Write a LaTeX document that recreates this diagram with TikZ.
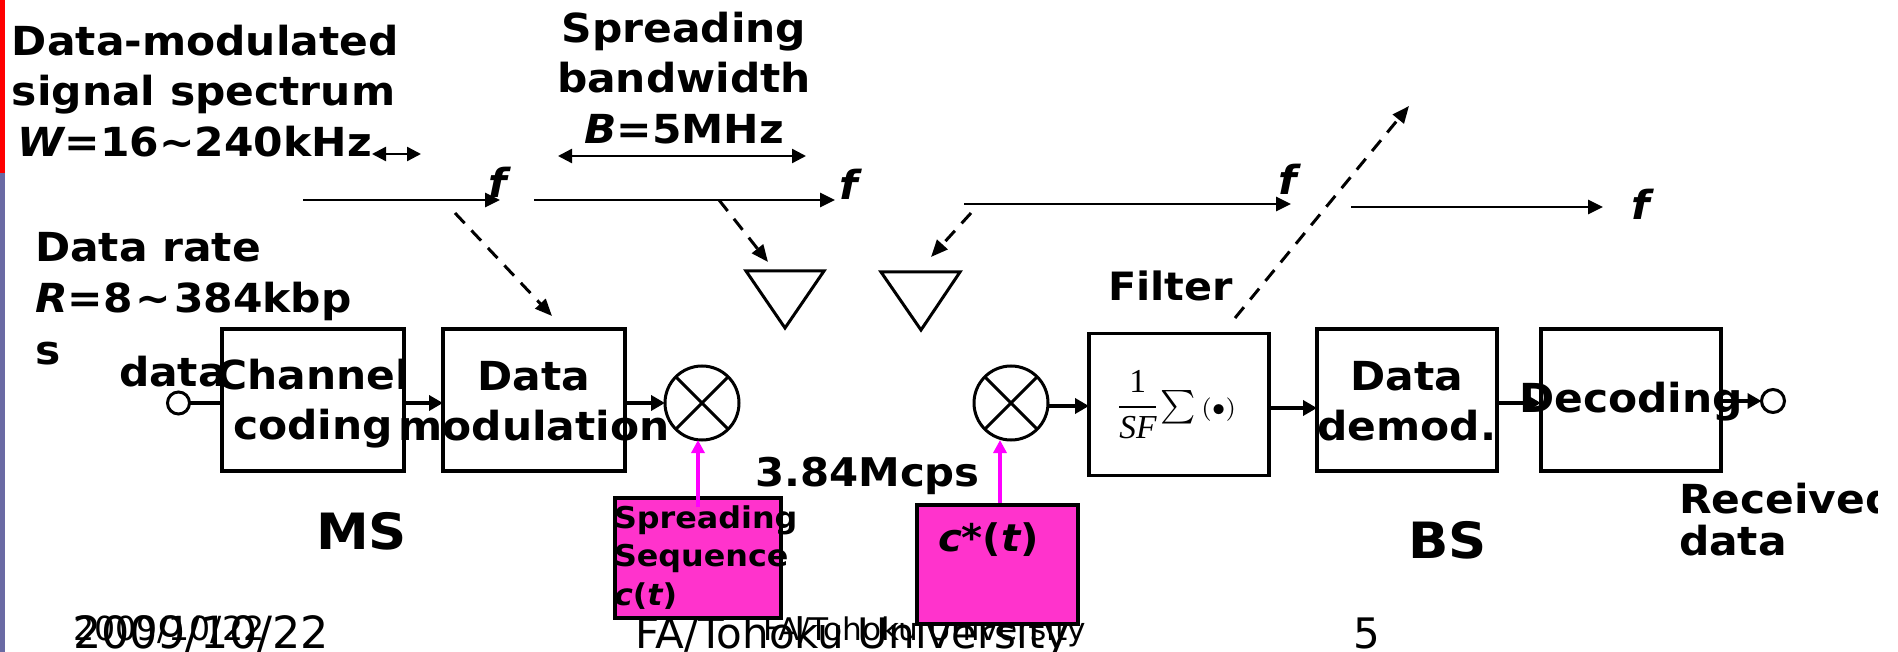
\documentclass[tikz,border=0pt]{standalone}
\usepackage{fontspec}
\setmainfont[BoldFeatures={FakeStretch=1.06},BoldItalicFeatures={FakeStretch=1.06}]{DejaVu Sans}
\newfontfamily\timesface{Liberation Serif}
\usetikzlibrary{arrows.meta}
\definecolor{stripred}{HTML}{FF0000}
\definecolor{stripblue}{HTML}{6A6AA4}
\definecolor{pinkfill}{HTML}{FF33CC}
\definecolor{magline}{HTML}{FF00FF}
\tikzset{
  x=1pt,y=-1pt,
  lbl/.style={inner sep=0pt,outer sep=0pt,anchor=base west,font=\fontsize{40}{50}\selectfont\bfseries},
  multi/.style={inner sep=0pt,outer sep=0pt,align=left,anchor=north west,font=\fontsize{40}{50.5}\selectfont\bfseries},
  foot/.style={inner sep=0pt,outer sep=0pt,anchor=base west,font=\fontsize{44.4}{50}\selectfont},
  footsmall/.style={inner sep=0pt,outer sep=0pt,anchor=base west,font=\fontsize{33.2}{36}\selectfont},
  blockbox/.style={draw,line width=3.2pt,inner sep=0pt,outer sep=0pt,align=center,minimum width=182pt,minimum height=142pt,font=\fontsize{40}{50}\selectfont\bfseries},
  pinkbox/.style={draw,line width=3.6pt,fill=pinkfill,inner sep=0pt,outer sep=0pt},
  mult/.style={draw,circle,line width=3pt,minimum size=74pt,inner sep=0pt,outer sep=0pt},
  port/.style={draw,circle,line width=3pt,minimum size=22pt,inner sep=0pt,outer sep=0pt},
  arr/.style={line width=2.6pt,-{Triangle[length=15pt,width=14pt]}},
  thickarr/.style={line width=3.6pt,-{Triangle[length=14pt,width=15pt]}},
  dbl/.style={line width=2.4pt,{Triangle[length=14pt,width=14pt]}-{Triangle[length=14pt,width=14pt]}},
  dasharr/.style={line width=3pt,dash pattern=on 14pt off 10pt,-{Triangle[length=17pt,width=14pt]}},
  magarr/.style={line width=3.2pt,magline,-{Triangle[length=13pt,width=13pt]}},
  ant/.style={draw,line width=3pt,line join=miter},
}
\newcommand{\topstrut}[1]{\rule{0pt}{#1pt}}
\newcommand{\botstrut}[1]{\rule[-#1pt]{0pt}{#1pt}}
\newcommand{\nw}[1]{\makebox[0pt]{#1}}
\begin{document}
\begin{tikzpicture}
\useasboundingbox (0,0) rectangle (1898,652);
% slide strip
\fill[stripred] (0,0) rectangle (5,173);
\fill[stripblue] (0,173) rectangle (5,652);
% footer
\node[foot] (footdate) at (73,648) {2009/10/22};
\node[foot,font=\fontsize{42}{50}\selectfont] (footorg) at (635,648) {FA/Tohoku University};
\node[foot,font=\fontsize{42}{50}\selectfont] (footnum) at (1353,648) {5};
\node[footsmall] (footdatesmall) at (73,640) {2009/10/22};
\node[footsmall,font=\fontsize{31.2}{36}\selectfont] (footorgsmall) at (763,640) {FA/Tohoku University};
% blocks
\node[blockbox] (chan) at (313,400) {\topstrut{38}\nw{Channel}\\\nw{coding}\botstrut{8}};
\node[blockbox] (mod) at (534,400) {\topstrut{38}\nw{Data}\\\nw{modulation}\botstrut{8}};
\node[blockbox,minimum width=180pt] (filt) at (1179,404.5) {\fontsize{10}{12}\selectfont\mdseries\scalebox{3.35}{\hspace{-2pt}$\displaystyle\frac{\mbox{\timesface 1}}{\mbox{\timesface\itshape SF}}\mskip-3mu\textstyle\sum{\scriptstyle(\bullet)}$}};
\node[blockbox,minimum width=180pt] (demod) at (1407,400) {\topstrut{38}\nw{Data}\\\nw{demod.}\botstrut{8}};
\node[blockbox,minimum width=180pt] (dec) at (1631,400) {\topstrut{34}\nw{Decoding}\botstrut{8}};
% multipliers
\node[mult] (m1) at (702,403) {};
\draw[line width=3pt] (m1.45) -- (m1.225) (m1.135) -- (m1.315);
\node[mult] (m2) at (1011,403) {};
\draw[line width=3pt] (m2.45) -- (m2.225) (m2.135) -- (m2.315);
% ports
\node[port] (inp) at (178.5,403) {};
\node[port,minimum size=23pt] (outp) at (1773,401) {};
% pink boxes
\node[pinkbox,minimum width=166pt,minimum height=120pt] (seq1) at (698,558) {};
\node[pinkbox,minimum width=161pt,minimum height=119pt] (seq2) at (997.5,564.5) {};
\node[inner sep=0pt,outer sep=0pt,align=left,anchor=west,font=\fontsize{30}{38.5}\selectfont\bfseries] (seq1txt) at (614,558) {\topstrut{24}Spreading\\Sequence\\\itshape c\upshape(\itshape t\upshape)\botstrut{7}};
\node[lbl,font=\fontsize{38}{50}\selectfont\bfseries] (seq2txt) at (938,551) {\itshape c*\upshape(\itshape t\upshape)};
% connectors
\draw[line width=3.6pt] (inp) -- ([yshift=-3pt]chan.west);
\draw[thickarr] ([yshift=-3pt]chan.east) -- ([yshift=-3pt]mod.west);
\draw[thickarr] ([yshift=-3pt]mod.east) -- (m1);
\draw[thickarr] ([yshift=-3pt]m2.east) -- ([yshift=-1.5pt]filt.west);
\draw[thickarr] ([yshift=-3.5pt]filt.east) -- ([yshift=-8pt]demod.west);
\draw[thickarr] ([yshift=-3pt]demod.east) -- ([yshift=-3pt]dec.west);
\draw[thickarr] ([yshift=-1pt]dec.east) -- (outp);
\coordinate (s1) at (698,507);
\coordinate (s2) at (1000,503);
\draw[magarr] (s1) -- (m1.south -| s1);
\draw[magarr] (s2) -- (m2.south -| s2);
% spectrum axes
\coordinate (a1s) at (303,200); \coordinate (a1e) at (500,200);
\coordinate (a2s) at (534,200); \coordinate (a2e) at (835,200);
\coordinate (a3s) at (964,204); \coordinate (a3e) at (1291,204);
\coordinate (a4s) at (1351,207); \coordinate (a4e) at (1603,207);
\draw[arr] (a1s) -- (a1e);
\draw[arr] (a2s) -- (a2e);
\draw[arr] (a3s) -- (a3e);
\draw[arr] (a4s) -- (a4e);
\coordinate (b1s) at (372,154); \coordinate (b1e) at (421,154);
\coordinate (b2s) at (558,156); \coordinate (b2e) at (806,156);
\draw[dbl] (b1s) -- (b1e);
\draw[dbl] (b2s) -- (b2e);
% antennas
\coordinate (t1a) at (746,271); \coordinate (t1b) at (824,271); \coordinate (t1c) at (785,328);
\coordinate (t2a) at (881,272); \coordinate (t2b) at (960,272); \coordinate (t2c) at (921,330);
\draw[ant] (t1a) -- (t1b) -- (t1c) -- cycle;
\draw[ant] (t2a) -- (t2b) -- (t2c) -- cycle;
% dashed
\coordinate (d1s) at (455,213); \coordinate (d1e) at (552,316);
\coordinate (d2s) at (719,200); \coordinate (d2e) at (768,262);
\coordinate (d3s) at (971,213); \coordinate (d3e) at (931,257);
\coordinate (d4s) at (1235,318); \coordinate (d4e) at (1409,106);
\draw[dasharr] (d1s) -- (d1e);
\draw[dasharr] (d2s) -- (d2e);
\draw[dasharr] (d3s) -- (d3e);
\draw[dasharr] (d4s) -- (d4e);
% labels
\node[multi] (wlabel) at (12,25) {Data-modulated\\signal spectrum\\\hspace*{6pt}\itshape W\upshape=16\textasciitilde 240kHz};
\node[multi,align=center,anchor=north] (blabel) at (684,12) {Spreading\\bandwidth\\\itshape B\upshape=5MHz};
\node[multi,font=\fontsize{40}{51.5}\selectfont\bfseries] (rlabel) at (35,232) {Data rate\\\itshape R\upshape=8\hspace{3pt}\textasciitilde\hspace{3pt}384kbp\\s};
\node[lbl] (dataL) at (119,386) {data};
\node[lbl,font=\fontsize{39.5}{50}\selectfont\bfseries] (rate) at (755,486) {3.84Mcps};
\node[lbl,font=\fontsize{39}{50}\selectfont\bfseries] (filtL) at (1108,301) {Filter};
\node[lbl,font=\fontsize{50}{50}\selectfont\bfseries] (ms) at (316,549) {MS};
\node[lbl,font=\fontsize{50}{50}\selectfont\bfseries] (bs) at (1408,558) {BS};
\node[multi,font=\fontsize{40}{42}\selectfont\bfseries] (recv) at (1679,483) {Received\\data};
\node[lbl,font=\fontsize{40}{50}\selectfont\bfseries\itshape] (f1) at (488,198) {f};
\node[lbl,font=\fontsize{40}{50}\selectfont\bfseries\itshape] (f2) at (839,200) {f};
\node[lbl,font=\fontsize{40}{50}\selectfont\bfseries\itshape] (f3) at (1278,195) {f};
\node[lbl,font=\fontsize{40}{50}\selectfont\bfseries\itshape] (f4) at (1631,220) {f};
% page edge
\fill[white] (1878,0) rectangle (1898,652);
\end{tikzpicture}
\end{document}
